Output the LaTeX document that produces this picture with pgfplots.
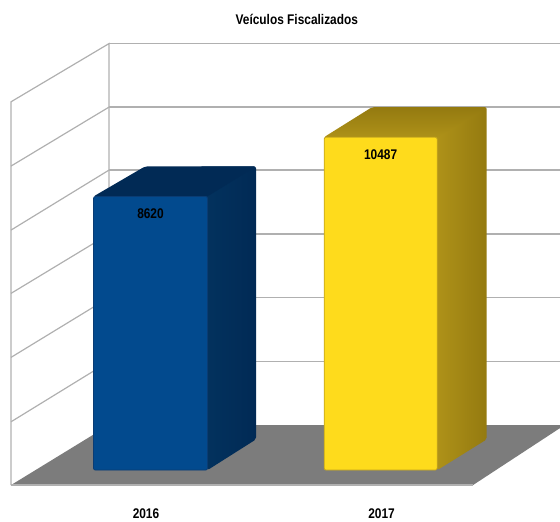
\documentclass[border=0pt]{standalone}
\usepackage{fontspec}
\setmainfont{Liberation Sans}
\usepackage{pgfplots}
\usepackage{pgfplotstable}
\pgfplotsset{compat=1.18}

\definecolor{gridc}{HTML}{B0B0B0}
\definecolor{floorc}{HTML}{7C7C7C}
\definecolor{bluef}{HTML}{024A8E}
\definecolor{blueedge}{HTML}{0A3C74}
\definecolor{bluea}{HTML}{03335F}
\definecolor{blueb}{HTML}{012A55}
\definecolor{yelf}{HTML}{FEDB1C}
\definecolor{yeledge}{HTML}{C4A41C}
\definecolor{yela}{HTML}{B2951A}
\definecolor{yelb}{HTML}{947A10}

% x is in picture pixels, y is the value: 31.5 units per pixel, 0 at the front of the bars
\pgfplotstableread{
x      y
150.5  8620
}\bluebar
\pgfplotstableread{
x      y
380.65 10487
}\yelbar

\begin{document}
\begin{tikzpicture}
\begin{axis}[
    scale only axis,
    width=560pt, height=519pt,
    xmin=0, xmax=560,
    ymin=-1543.5, ymax=14805,
    axis line style={draw=none},
    major tick length=0pt,
    ytick=\empty,
    xtick={146,381.6},
    xticklabels={2016,2017},
    xticklabel style={font=\bfseries\fontsize{14}{14}\selectfont, xscale=0.85, yshift=14pt},
    title={Veículos Fiscalizados},
    title style={font=\bfseries\fontsize{14}{14}\selectfont, xscale=0.85,
        at={(axis description cs:0.53,0.951)}, anchor=center},
    /pgf/number format/assume math mode=true,
    /pgf/number format/1000 sep={},
    nodes near coords style={font=\bfseries\fontsize{14}{14}\selectfont, xscale=0.85,
        anchor=north, yshift=-9pt, text=black},
]
% floor
\addplot[fill=floorc, draw=none] coordinates {(11,-472) (109,1417.5) (560,1417.5) (560,1323) (473,-472)} -- cycle;
% left wall
\addplot[gridc, line width=1.2pt] coordinates {(11,-472) (11,11601) (109,13435) (109,1417.5)};
\addplot[gridc, line width=1.2pt] coordinates {(11,-472) (473,-472)};
\addplot[gridc, line width=1.2pt] coordinates {(11,9576) (109,11434.5)};
\addplot[gridc, line width=1.2pt] coordinates {(11,7560) (109,9450)};
\addplot[gridc, line width=1.2pt] coordinates {(11,5566) (109,7434)};
\addplot[gridc, line width=1.2pt] coordinates {(11,3550) (109,5434)};
\addplot[gridc, line width=1.2pt] coordinates {(11,1521) (109,3418)};
% back wall
\addplot[gridc, line width=1.2pt] coordinates {(109,13435) (560,13435)};
\addplot[gridc, line width=1.6pt] coordinates {(109,11434.5) (560,11434.5)};
\addplot[gridc, line width=1.6pt] coordinates {(109,9450) (560,9450)};
\addplot[gridc, line width=1.6pt] coordinates {(109,7434) (560,7434)};
\addplot[gridc, line width=1.6pt] coordinates {(109,5434) (560,5434)};
\addplot[gridc, line width=1.6pt] coordinates {(109,3418) (560,3418)};
% 2016, side and top
\addplot[draw=none, rounded corners=2pt, left color=bluea, right color=blueb] coordinates {(200,8620) (200,9565) (256,9565) (256,967) (207.5,0)} -- cycle;
\addplot[draw=none, rounded corners=2pt, fill=blueb] coordinates {(93.5,8620) (145,9565) (256,9565) (207.5,8620)} -- cycle;
% 2017, side and top
\addplot[draw=none, rounded corners=2pt, left color=yela, right color=yelb] coordinates {(430,10487) (430,11432) (486.7,11432) (486.7,967) (437.3,0)} -- cycle;
\addplot[draw=none, rounded corners=2pt, top color=yelb, bottom color=yela!85!yelb] coordinates {(324,10487) (372,11432) (486.7,11432) (437.3,10487)} -- cycle;
% fronts
\addplot[ybar, bar width=114pt, bar shift=0pt, fill=bluef, draw=blueedge, line width=0.8pt,
    rounded corners=2pt, nodes near coords] table {\bluebar};
\addplot[ybar, bar width=113pt, bar shift=0pt, fill=yelf, draw=yeledge, line width=0.8pt,
    rounded corners=2pt, nodes near coords] table {\yelbar};
\end{axis}
\end{tikzpicture}
\end{document}
